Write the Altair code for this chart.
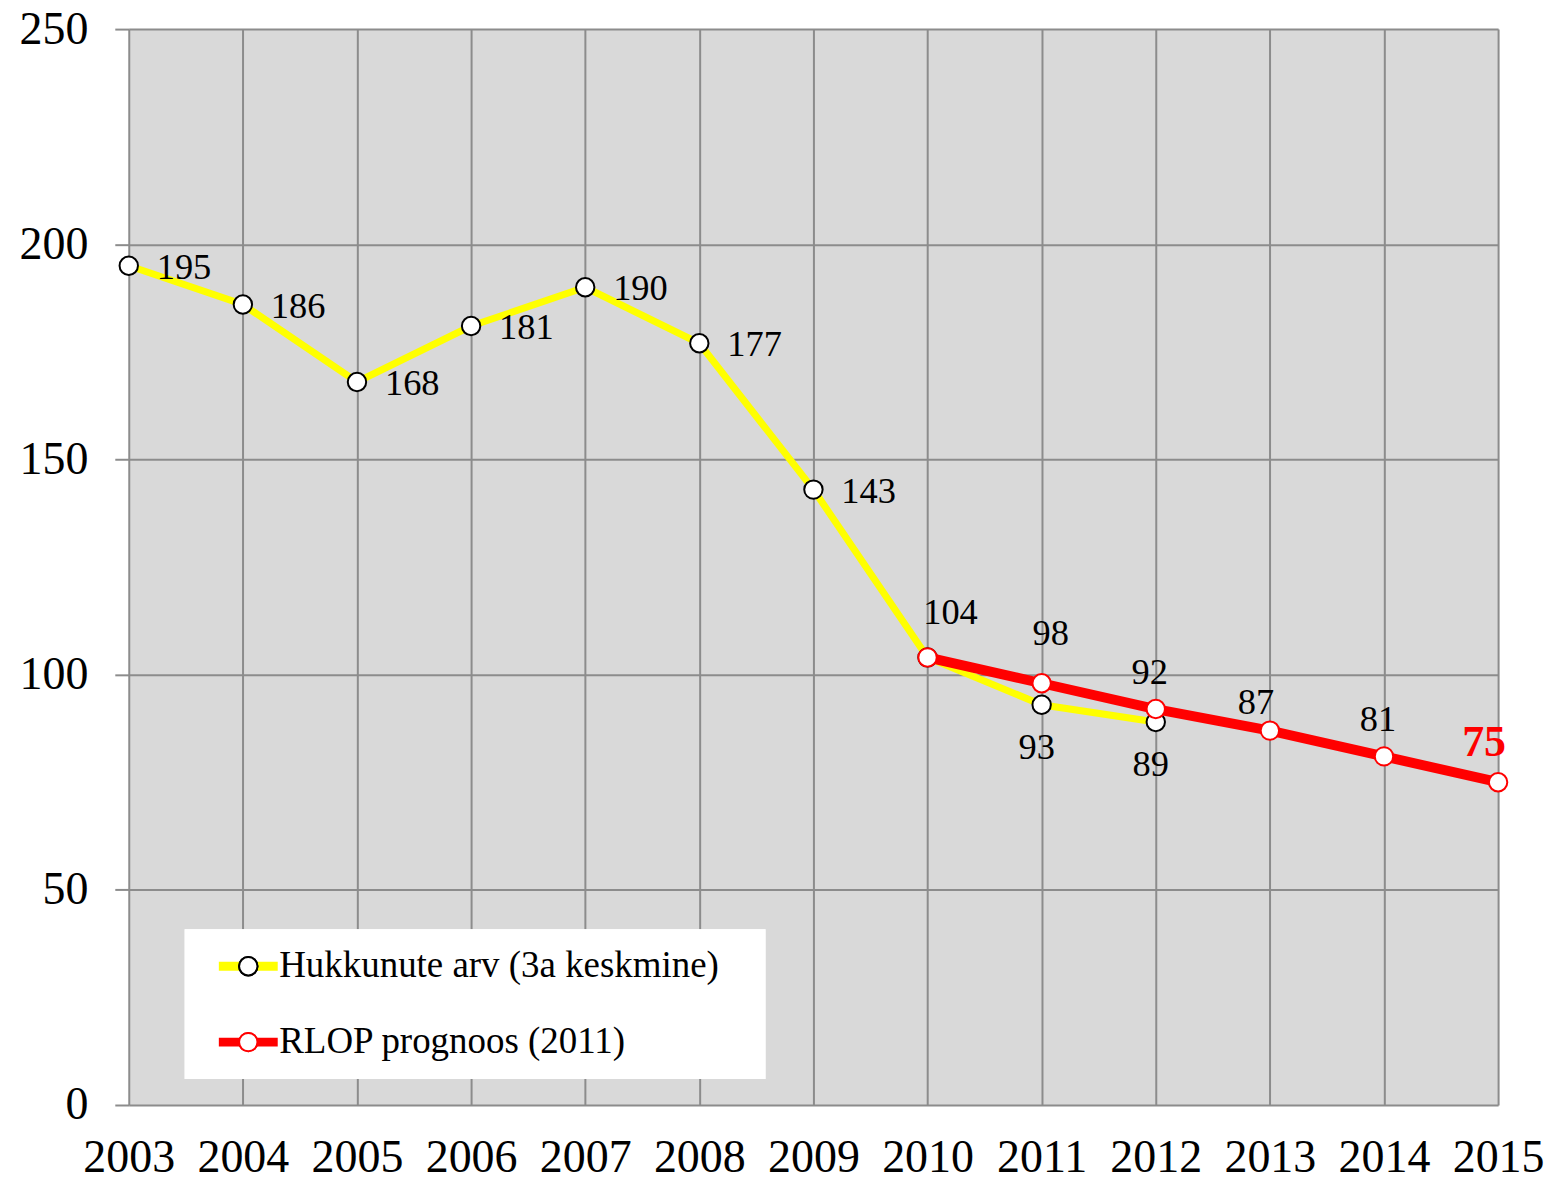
import altair as alt
import pandas as pd

years_hist = [2003, 2004, 2005, 2006, 2007, 2008, 2009, 2010, 2011, 2012]
hukkunute = [195, 186, 168, 181, 190, 177, 143, 104, 93, 89]
years_prog = [2010, 2011, 2012, 2013, 2014, 2015]
rlop = [104, 98, 92, 87, 81, 75]
x_ticks = list(range(2003, 2016))
y_ticks = [0, 50, 100, 150, 200, 250]
series_names = ["Hukkunute arv (3a keskmine)", "RLOP prognoos (2011)"]
series_codes = ["h", "r"]

df = pd.DataFrame({
    "year": years_hist + years_prog,
    "value": hukkunute + rlop,
    "series": [series_names[0]] * len(years_hist) + [series_names[1]] * len(years_prog),
    "code": [series_codes[0]] * len(years_hist) + [series_codes[1]] * len(years_prog),
})

YELLOW = "#FFFF00"
RED = "#FF0000"
GRID = "#8C8C8C"
FONT = "Liberation Serif"

x_enc = alt.X(
    "year:Q",
    scale=alt.Scale(domain=[2003, 2015], nice=False, zero=False),
    axis=alt.Axis(values=x_ticks, format="d", title=None, ticks=False, tickSize=0,
                  labelBaseline="alphabetic", labelPadding=67, labelFontSize=46,
                  labelFont=FONT, labelColor="black", domain=False,
                  gridColor=GRID, gridWidth=2, gridOpacity=1, labelFlush=False),
)
y_enc = alt.Y(
    "value:Q",
    scale=alt.Scale(domain=[0, 250], nice=False),
    axis=alt.Axis(values=y_ticks, title=None, tickSize=14, tickColor=GRID, tickWidth=2,
                  labelPadding=27, labelFontSize=46, labelFont=FONT, labelColor="black",
                  domain=False, gridColor=GRID, gridWidth=2, gridOpacity=1),
)

base = alt.Chart(df).encode(x=x_enc, y=y_enc)

PAD_CHAR = "\u2800"
color_enc = alt.Color(
    "series:N",
    scale=alt.Scale(domain=series_names, range=[YELLOW, RED]),
    legend=alt.Legend(
        title=None, orient="none", legendX=56, legendY=902, direction="vertical",
        symbolType="M-2.95,0H2.95", symbolSize=400, symbolStrokeWidth=9,
        symbolOffset=26.75, labelOffset=12.5, padding=18.5, rowPadding=38,
        labelFont=FONT, labelFontSize=37, labelColor="black", labelLimit=1000,
        fillColor="white", zindex=1,
        labelExpr="datum.label + '" + PAD_CHAR + "'",
    ),
)
stroke_enc = alt.Stroke(
    "code:N",
    scale=alt.Scale(domain=series_codes, range=["#000000", RED]),
    legend=alt.Legend(
        title=None, orient="none", legendX=56, legendY=902, direction="vertical",
        symbolType="circle", symbolSize=340, symbolStrokeWidth=2,
        symbolFillColor="white", symbolOpacity=1,
        symbolOffset=26.75, labelOffset=12.5, padding=18.5, rowPadding=38,
        labelFont=FONT, labelFontSize=37, labelOpacity=0, zindex=2,
        labelExpr="''",
    ),
)

is_h = alt.datum.code == "h"
is_r = alt.datum.code == "r"

line_h = base.transform_filter(is_h).mark_line(strokeWidth=7).encode(color=color_enc)
line_r = base.transform_filter(is_r).mark_line(strokeWidth=10).encode(color=color_enc)
pts_h = base.transform_filter(is_h).mark_point(
    shape="circle", fill="white", fillOpacity=1, size=340, strokeWidth=2, opacity=1
).encode(stroke=stroke_enc)
pts_r = base.transform_filter(is_r).mark_point(
    shape="circle", fill="white", fillOpacity=1, size=340, strokeWidth=2, opacity=1
).encode(stroke=stroke_enc)

txt = alt.Text("value:Q", format="d")


def labels(cond, **kw):
    props = dict(font=FONT, fontSize=36.5, color="black", baseline="middle", align="center")
    props.update(kw)
    return base.transform_filter(cond).mark_text(**props).encode(text=txt)


lab_right = labels(is_h & (alt.datum.year <= 2009), align="left", dx=28, dy=2)
lab_104 = labels(is_h & (alt.datum.year == 2010), dx=23, dy=-44)
lab_below = labels(is_h & (alt.datum.year >= 2011), dx=-5, dy=43)
lab_98 = labels(is_r & (alt.datum.year == 2011), dx=9, dy=-49)
lab_92_81 = labels(is_r & ((alt.datum.year == 2012) | (alt.datum.year == 2014)), dx=-6, dy=-36)
lab_87 = labels(is_r & (alt.datum.year == 2013), dx=-14, dy=-28)
lab_75 = labels(is_r & (alt.datum.year == 2015), dx=-14, dy=-39, fontSize=44,
                fontWeight="bold", color=RED)

chart = alt.layer(
    line_h, pts_h, line_r, pts_r,
    lab_right, lab_104, lab_below, lab_98, lab_92_81, lab_87, lab_75,
).resolve_legend(color="independent", stroke="independent").properties(
    width=1372,
    height=1078,
    autosize=alt.AutoSizeParams(type="none"),
    padding={"left": 121, "top": 20, "right": 48, "bottom": 68},
    background="white",
).configure_view(fill="#D9D9D9", stroke="transparent")

chart.save("out.html", embed_options={"renderer": "svg", "actions": False})
